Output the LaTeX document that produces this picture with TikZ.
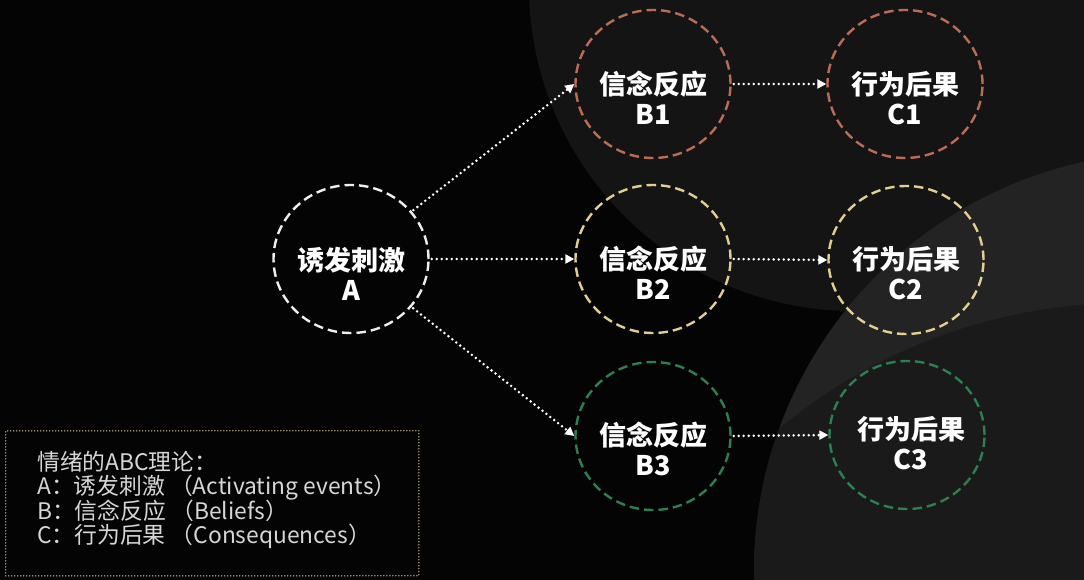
\documentclass[tikz,border=0pt]{standalone}
\usepackage{fontspec}
\setmainfont{Noto Sans CJK SC}
\usetikzlibrary{arrows.meta,shapes.geometric}
\definecolor{bgbase}{RGB}{4,4,4}
\definecolor{bgone}{RGB}{20,20,20}
\definecolor{bgtwo}{RGB}{35,35,35}
\definecolor{bgthree}{RGB}{26,26,26}
\definecolor{ringA}{RGB}{238,238,238}
\definecolor{ringone}{RGB}{188,108,84}
\definecolor{ringtwo}{RGB}{226,206,142}
\definecolor{ringthree}{RGB}{42,128,80}
\definecolor{legframe}{RGB}{200,180,140}
\definecolor{legtext}{RGB}{214,214,214}
\tikzset{
  ring/.style={ellipse, minimum width=155pt, minimum height=148pt, inner sep=0pt,
    line width=2.4pt, dash pattern=on 9.5pt off 5pt},
  ntext/.style={text=white, align=center, inner sep=0pt,
    font=\fontsize{27pt}{30pt}\selectfont\bfseries},
  flow/.style={draw=white, line width=2.8pt, line cap=round,
    dash pattern=on 0pt off 5pt, shorten <=2pt,
    -{Triangle[length=9pt,width=9pt]}},
  legbox/.style={draw=legframe, line width=1.5pt, line cap=round,
    dash pattern=on 0pt off 3pt, inner sep=0pt,
    minimum width=413pt, minimum height=145pt, anchor=north west},
  legline/.style={text=legtext, anchor=base west, inner sep=0pt,
    font=\fontsize{22.8pt}{24pt}\selectfont}
}
\begin{document}
\begin{tikzpicture}[x=1pt,y=-1pt]
\useasboundingbox (0,0) rectangle (1084,580);
\fill[bgbase] (0,0) rectangle (1084,580);
\begin{scope}
  \clip (0,0) rectangle (1084,580);
  \fill[bgone] (854,-14) circle[radius=325pt];
  \fill[bgtwo] (1174,572) circle[radius=420pt];
  \begin{scope}
    \clip (1174,572) circle[radius=420pt];
    \fill[bgthree] (1128,850) circle[radius=547pt];
  \end{scope}
\end{scope}

% circles
\node[ring, draw=ringA] (A) at (351,259) {};
\node[ring, draw=ringone] (B1) at (653,84) {};
\node[ring, draw=ringtwo] (B2) at (653,259) {};
\node[ring, draw=ringthree] (B3) at (653,436) {};
\node[ring, draw=ringone] (C1) at (905,84) {};
\node[ring, draw=ringtwo] (C2) at (906,260) {};
\node[ring, draw=ringthree] (C3) at (907,435) {};

% texts
\node[ntext] (At) at ([yshift=-15pt]A.center) {诱发刺激\\A};
\node[ntext] (B1t) at ([yshift=-14pt]B1.center) {信念反应\\B1};
\node[ntext] (B2t) at ([yshift=-14pt]B2.center) {信念反应\\B2};
\node[ntext] (B3t) at ([yshift=-13pt]B3.center) {信念反应\\B3};
\node[ntext] (C1t) at ([yshift=-14pt]C1.center) {行为后果\\C1};
\node[ntext] (C2t) at ([yshift=-13pt]C2.center) {行为后果\\C2};
\node[ntext] (C3t) at ([xshift=4pt,yshift=-8pt]C3.center) {行为后果\\C3};

% connectors
\draw[flow] (A) -- (B1.west);
\draw[flow] (A.east) -- (B2.west);
\draw[flow] (A) -- (B3.west);
\draw[flow] (B1.east) -- (C1.west);
\draw[flow] (B2.east) -- (C2.west);
\draw[flow] (B3.east) -- (C3.west);

% legend
\node[legbox] (legend) at (5,430) {};
\node[legline] (L0) at (37,470) {情绪的ABC理论：};
\node[legline] (L1) at (37,494.5) {A：诱发刺激 （Activating events）};
\node[legline] (L2) at (37,519) {B：信念反应 （Beliefs）};
\node[legline] (L3) at (37,543.5) {C：行为后果 （Consequences）};
\end{tikzpicture}
\end{document}
